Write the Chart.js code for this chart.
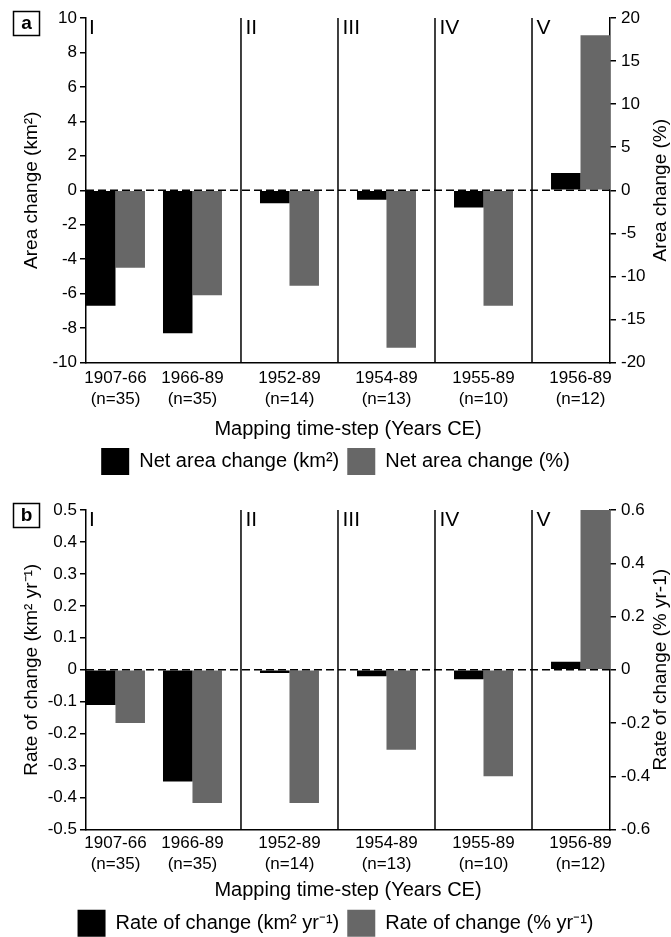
<!DOCTYPE html>
<html>
<head>
<meta charset="utf-8">
<script src="https://cdn.jsdelivr.net/npm/chart.js@4.4.1/dist/chart.umd.min.js"></script>
<style>
  html, body { margin: 0; padding: 0; background: #fff; overflow: hidden; }
  #wrap { position: relative; width: 671px; height: 937px; overflow: hidden; background: #fff; }
  canvas { position: absolute; left: 0; }
</style>
</head>
<body>
<div id="wrap">
  <canvas id="c1" width="671" height="486" style="top:0px"></canvas>
  <canvas id="c2" width="671" height="461" style="top:486px"></canvas>
</div>
<script>
// ---------------- DATA ----------------
const periods     = ['1907-66', '1966-89', '1952-89', '1954-89', '1955-89', '1956-89'];
const sampleSizes = [35, 35, 14, 13, 10, 12];
const groups      = ['I', 'I', 'II', 'III', 'IV', 'V'];

// Panel a: net area change
const netAreaKm2 = [-6.7, -8.3, -0.75, -0.55, -1.0, 1.0];
const netAreaPct = [-9.0, -12.2, -11.1, -18.3, -13.4, 18.0];

// Panel b: rate of change
const rateKm2 = [-0.11, -0.35, -0.01, -0.02, -0.03, 0.025];
const ratePct = [-0.2, -0.5, -0.5, -0.3, -0.4, 0.6];

// Axis tick ranges
const areaKm2Axis = { min: -10, max: 10, step: 2 };
const areaPctAxis = { min: -20, max: 20, step: 5 };
const rateKm2Axis = { min: -0.5, max: 0.5, step: 0.1 };
const ratePctAxis = { min: -0.6, max: 0.6, step: 0.2 };

// Texts
const xTitle = 'Mapping time-step (Years CE)';
const titlesA = { left: 'Area change (km²)', right: 'Area change (%)',
                  s1: 'Net area change (km²)', s2: 'Net area change (%)' };
const titlesB = { left: 'Rate of change (km² yr⁻¹)', right: 'Rate of change (% yr-1)',
                  s1: 'Rate of change (km² yr⁻¹)', s2: 'Rate of change (% yr⁻¹)' };

// ---------------- LAYOUT ----------------
const groupGap = 0.26;     // extra spacing between groups (in category units)
const pairWidth = 0.766;   // fraction of a unit taken by a pair of bars
const xPos = (() => { let g = 0; return periods.map((_, i) => { if (i > 0 && groups[i] !== groups[i - 1]) g++; return i + g * groupGap; }); })();

const FONT = '"Liberation Sans", Arial, Helvetica, sans-serif';
Chart.defaults.font.family = FONT;
Chart.defaults.color = '#000';

const decorPlugin = {
  id: 'decor',
  afterDatasetsDraw(chart, args, opts) {
    const { ctx, chartArea: a, scales } = chart;
    const xs = scales.x, ys = scales.y;
    ctx.save();
    ctx.strokeStyle = '#000';
    ctx.lineWidth = 1.5;
    // group dividers
    const starts = [a.left];
    for (let i = 1; i < xPos.length; i++) {
      if (groups[i] !== groups[i - 1]) {
        const px = xs.getPixelForValue((xPos[i - 1] + xPos[i]) / 2);
        starts.push(px);
        ctx.beginPath(); ctx.moveTo(px, a.top); ctx.lineTo(px, a.bottom); ctx.stroke();
      }
    }
    // dashed zero line
    const y0 = ys.getPixelForValue(0);
    ctx.setLineDash([8, 4]);
    ctx.beginPath(); ctx.moveTo(a.left, y0); ctx.lineTo(a.right, y0); ctx.stroke();
    ctx.setLineDash([]);
    // group numerals
    ctx.fillStyle = '#000';
    ctx.font = '21px ' + FONT;
    ctx.textAlign = 'left';
    ctx.textBaseline = 'alphabetic';
    const uniq = groups.filter((g, i) => i === 0 || g !== groups[i - 1]);
    uniq.forEach((g, k) => ctx.fillText(g, starts[k] + (k === 0 ? 3 : 4.5), a.top + 15.5));
    // panel letter in a box
    ctx.lineWidth = 1.5;
    ctx.strokeRect(13.5, a.top - 6.5, 26, 24);
    ctx.font = 'bold 19px ' + FONT;
    ctx.textAlign = 'center';
    ctx.textBaseline = 'middle';
    ctx.fillText(opts.letter, 26.5, a.top + 6);
    // right axis title (reads bottom-to-top)
    ctx.font = '19px ' + FONT;
    ctx.translate(chart.width - 10, (a.top + a.bottom) / 2);
    ctx.rotate(-Math.PI / 2);
    ctx.fillText(opts.rightTitle, 0, 0);
    ctx.restore();
  }
};

function makeChart(canvasId, cfg) {
  const halfPair = pairWidth / 2;
  return new Chart(document.getElementById(canvasId), {
    type: 'bar',
    data: {
      datasets: [
        { label: cfg.titles.s1, data: cfg.v1.map((v, i) => ({ x: xPos[i], y: v })),
          backgroundColor: '#000000', yAxisID: 'y', categoryPercentage: pairWidth, barPercentage: 1 },
        { label: cfg.titles.s2, data: cfg.v2.map((v, i) => ({ x: xPos[i], y: v })),
          backgroundColor: '#676767', yAxisID: 'y1', categoryPercentage: pairWidth, barPercentage: 1 }
      ]
    },
    options: {
      responsive: false,
      animation: false,
      events: [],
      layout: { padding: { top: cfg.padTop, bottom: cfg.padBottom, left: 0, right: 0 } },
      scales: {
        x: {
          type: 'linear',
          offset: false,
          min: xPos[0] - halfPair,
          max: xPos[xPos.length - 1] + halfPair,
          afterBuildTicks: (scale) => { scale.ticks = xPos.map(v => ({ value: v })); },
          grid: { display: false, drawTicks: false, offset: false },
          border: { display: true, color: '#000', width: 1.5 },
          ticks: {
            autoSkip: false, maxRotation: 0, minRotation: 0,
            padding: cfg.xTickPad,
            font: { size: 17, lineHeight: 1.235 },
            color: '#000',
            callback: (value, index) => [periods[index], '(n=' + sampleSizes[index] + ')']
          },
          title: { display: true, text: xTitle, font: { size: 20, lineHeight: 1 }, color: '#000',
                   padding: { top: cfg.xTitlePadTop, bottom: 1 } }
        },
        y: {
          position: 'left',
          min: cfg.ax1.min, max: cfg.ax1.max,
          ticks: { stepSize: cfg.ax1.step, font: { size: 17 }, color: '#000', padding: 3 },
          grid: { drawOnChartArea: false, drawTicks: true, tickLength: 6, color: '#000', lineWidth: 1.5 },
          border: { display: true, color: '#000', width: 1.5 },
          title: { display: true, text: cfg.titles.left, font: { size: 19, lineHeight: 1 }, color: '#000',
                   padding: { top: 22.5, bottom: 0 } },
          afterFit: (s) => { s.width = 86; }
        },
        y1: {
          position: 'right',
          min: cfg.ax2.min, max: cfg.ax2.max,
          ticks: { stepSize: cfg.ax2.step, font: { size: 17 }, color: '#000', padding: 5 },
          grid: { drawOnChartArea: false, drawTicks: true, tickLength: 6, color: '#000', lineWidth: 1.5 },
          border: { display: true, color: '#000', width: 1.5 },
          title: { display: false, text: cfg.titles.right },
          afterFit: (s) => { s.width = 61; }
        }
      },
      plugins: {
        tooltip: { enabled: false },
        legend: {
          position: 'bottom',
          labels: { boxWidth: 28, boxHeight: 27, padding: 8, font: { size: 20 }, color: '#000' }
        },
        decor: { letter: cfg.letter, rightTitle: cfg.titles.right }
      }
    },
    plugins: [decorPlugin]
  });
}

makeChart('c1', { v1: netAreaKm2, v2: netAreaPct, ax1: areaKm2Axis, ax2: areaPctAxis, titles: titlesA,
                  letter: 'a', padTop: 18, padBottom: 1, xTickPad: 5, xTitlePadTop: 4.5 });
makeChart('c2', { v1: rateKm2, v2: ratePct, ax1: rateKm2Axis, ax2: ratePctAxis, titles: titlesB,
                  letter: 'b', padTop: 24, padBottom: 0.3, xTickPad: 3, xTitlePadTop: 3.2 });
</script>
</body>
</html>
